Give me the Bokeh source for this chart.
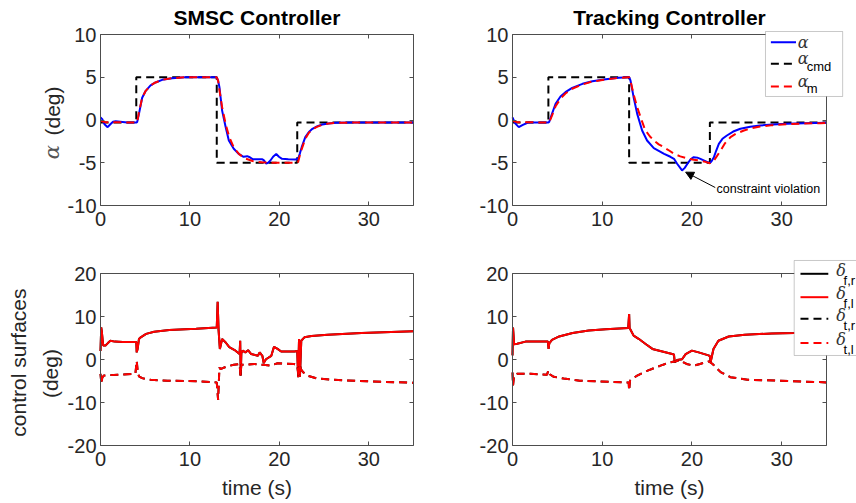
from bokeh.plotting import figure
from bokeh.layouts import column, row
from bokeh.models import Range1d, FixedTicker, LinearAxis, Label, Arrow, NormalHead, BoxAnnotation
from bokeh.embed import file_html
from bokeh.resources import INLINE

# ---------------------------------------------------------------- data
x_ticks = [0, 10, 20, 30]
alpha_ticks = [-10, -5, 0, 5, 10]
surf_ticks = [-20, -10, 0, 10, 20]

# commanded angle of attack (deg), step sequence
cmd_pts = [(0, -0.3), (4, -0.3), (4, 5), (13, 5), (13, -5), (22, -5), (22, -0.3), (35, -0.3)]

# SMSC controller: measured alpha and reference-model alpha (deg)
smsc_alpha_pts = [(0, 0.3), (0.2, 0.1), (0.45, -0.5), (0.8, -0.84), (1.1, -0.5), (1.4, -0.2), (1.7, -0.14),
                  (2.2, -0.2), (3.0, -0.3), (4.0, -0.3), (4.1, -0.25), (4.3, 0.72), (4.66, 2.6), (5.03, 3.37),
                  (5.6, 4.04), (6.15, 4.39), (6.9, 4.7), (8.0, 4.89), (9.5, 5.0), (13.0, 5.0), (13.15, 4.6),
                  (13.3, 3.84), (13.6, 1.1), (14.0, -0.84), (14.35, -2.4), (14.9, -3.37), (15.5, -4.0),
                  (16.0, -4.3), (16.4, -4.23), (16.7, -4.35), (17.0, -4.58), (17.5, -4.6), (18.1, -4.58),
                  (18.3, -4.75), (18.5, -5.1), (18.75, -5.0), (19.0, -4.74), (19.3, -4.3), (19.65, -3.96),
                  (19.95, -4.3), (20.3, -4.54), (21.0, -4.6), (21.8, -4.62), (22.1, -4.54), (22.3, -3.9),
                  (22.5, -3.18), (22.9, -2.0), (23.3, -1.4), (23.7, -1.03), (24.2, -0.75), (24.8, -0.53),
                  (25.5, -0.4), (26.3, -0.33), (28, -0.3), (35, -0.3)]
smsc_alpha_m_pts = [(0, -0.1), (0.5, -0.25), (4.0, -0.3), (4.1, -0.25), (4.3, 0.9), (4.66, 2.6), (5.03, 3.37),
                    (5.6, 4.04), (6.15, 4.39), (6.9, 4.7), (8.0, 4.89), (9.5, 5.0), (13.0, 5.0), (13.15, 4.6),
                    (13.3, 3.5), (13.6, 1.5), (14.0, -0.5), (14.4, -2.0), (14.9, -3.2), (15.5, -4.0),
                    (16.2, -4.5), (17.0, -4.8), (18.0, -4.95), (19.0, -5.0), (22.0, -5.0), (22.1, -4.9),
                    (22.3, -4.1), (22.5, -3.4), (22.9, -2.2), (23.3, -1.5), (23.7, -1.1), (24.2, -0.8),
                    (24.8, -0.55), (25.5, -0.42), (26.3, -0.33), (28, -0.3), (35, -0.3)]

# tracking controller: measured alpha and reference-model alpha (deg)
trk_alpha_pts = [(0, 0.3), (0.3, -0.4), (0.7, -0.84), (1.1, -0.6), (1.8, -0.26), (2.5, -0.3), (4.0, -0.3),
                 (4.1, -0.2), (4.4, 0.72), (4.8, 1.9), (5.35, 2.75), (5.9, 3.25), (6.65, 3.76), (7.8, 4.23),
                 (8.9, 4.54), (10.4, 4.77), (11.85, 4.93), (12.9, 5.0), (13.0, 5.0), (13.15, 4.62),
                 (13.5, 2.67), (13.9, 0.72), (14.45, -1.23), (15.0, -2.4), (15.75, -3.3), (16.9, -3.96),
                 (17.6, -4.3), (18.0, -4.54), (18.35, -5.12), (18.9, -5.9), (19.2, -5.6), (19.5, -5.12),
                 (19.85, -4.6), (20.2, -4.35), (20.6, -4.4), (20.95, -4.54), (21.5, -4.8), (22.0, -5.05),
                 (22.2, -4.8), (22.45, -4.35), (22.7, -3.6), (23.0, -2.79), (23.4, -2.2), (23.9, -1.81),
                 (24.6, -1.35), (25.4, -1.03), (26.5, -0.8), (27.6, -0.64), (29, -0.52), (30.6, -0.45),
                 (32.5, -0.38), (35, -0.32)]
trk_alpha_m_pts = [(0, -0.1), (0.5, -0.25), (4.0, -0.3), (4.1, -0.25), (4.4, 0.5), (4.8, 1.6), (5.35, 2.5),
                   (5.9, 3.1), (6.65, 3.65), (7.8, 4.15), (8.9, 4.5), (10.4, 4.75), (11.85, 4.92), (12.9, 5.0),
                   (13.0, 5.0), (13.15, 4.6), (13.5, 3.0), (13.9, 1.5), (14.45, -0.2), (14.8, -1.2),
                   (15.3, -1.9), (15.75, -2.4), (16.3, -2.85), (16.9, -3.2), (17.5, -3.6), (18.0, -3.96),
                   (18.7, -4.25), (19.5, -4.5), (20.2, -4.65), (20.95, -4.74), (21.5, -4.9), (22.0, -5.05),
                   (22.45, -4.74), (22.8, -4.2), (23.2, -3.57), (23.7, -2.7), (24.3, -2.0), (25.0, -1.55),
                   (25.8, -1.23), (26.7, -0.95), (27.6, -0.76), (29, -0.6), (30.6, -0.5), (32.5, -0.42),
                   (34.3, -0.37), (35, -0.35)]

# SMSC controller: flap (f) and tail (t) deflections (deg); right and left surfaces coincide
smsc_flap_pts = [(0, 2.0), (0.08, 7.5), (0.15, 6.5), (0.3, 3.3), (0.56, 3.3), (0.8, 3.8), (1.1, 4.4),
                 (1.6, 4.2), (2.5, 4.1), (4.0, 4.1), (4.05, 1.7), (4.15, 2.5), (4.3, 4.8), (4.5, 5.2),
                 (5.1, 6.0), (6.0, 6.5), (7.7, 6.9), (10.7, 7.2), (13.0, 7.5), (13.1, 13.5), (13.2, 7.0),
                 (13.35, 2.5), (13.6, 4.8), (14.0, 4.0), (14.4, 2.9), (15.1, 2.1), (15.55, 1.3), (15.62, 4.4),
                 (15.68, -3.7), (15.75, 1.5), (15.9, 2.1), (16.2, 1.7), (16.5, 2.2), (16.85, 1.3), (17.6, 0.9),
                 (17.8, 1.7), (18.1, 0.9), (18.25, -0.8), (18.5, 0.1), (19.1, 0.9), (19.4, 3.0), (19.8, 2.5),
                 (20.2, 1.9), (21.7, 1.9), (22.0, 2.0), (22.1, -4.1), (22.2, 4.8), (22.3, -4.0), (22.45, 4.4),
                 (22.8, 5.2), (23.6, 5.5), (25.4, 5.8), (29.2, 6.2), (35, 6.6)]
smsc_tail_pts = [(0, -3.3), (0.1, -5.7), (0.2, -4.2), (0.37, -3.7), (1.9, -3.5), (3.9, -3.3), (4.05, -0.3),
                 (4.15, -2.5), (4.3, -3.9), (4.65, -4.3), (5.6, -4.7), (7.5, -4.9), (11.2, -5.05), (13.0, -5.3),
                 (13.15, -9.4), (13.3, -1.8), (13.4, -2.2), (14.1, -1.6), (14.9, -1.2), (15.55, -1.0),
                 (15.65, -3.7), (15.75, -1.2), (16.1, -1.2), (17.2, -1.0), (18.2, -1.2), (19.0, -1.4),
                 (19.8, -0.85), (21.6, -1.0), (22.0, -1.2), (22.15, -4.1), (22.3, -1.0), (22.4, -2.2),
                 (22.7, -3.0), (23.1, -3.7), (24.2, -4.4), (26.1, -4.7), (29.8, -5.05), (35, -5.4)]

# tracking controller: flap and tail deflections (deg)
trk_flap_pts = [(0, 1.0), (0.06, 7.5), (0.18, 3.6), (0.52, 3.7), (1.45, 4.2), (3.95, 4.2), (4.02, 2.5),
                (4.1, 3.8), (4.4, 4.6), (5.2, 5.4), (6.7, 6.2), (8.5, 6.8), (10.4, 7.1), (12.9, 7.4),
                (13.0, 10.6), (13.05, 7.4), (13.2, 6.8), (13.5, 5.6), (14.1, 4.8), (14.8, 3.7), (15.6, 2.5),
                (16.7, 1.9), (17.8, 1.3), (18.0, 1.2), (18.08, -0.6), (18.35, -0.1), (18.9, 0.1), (19.3, 1.3),
                (20.0, 2.1), (20.75, 1.7), (21.85, 1.0), (22.0, 0.8), (22.08, -0.6), (22.4, 2.5), (22.95, 4.4),
                (24.1, 5.4), (25.9, 5.8), (28.9, 6.1), (31.4, 6.2), (35, 6.4)]
trk_tail_pts = [(0, -3.0), (0.06, -6.0), (0.18, -3.6), (0.5, -3.3), (2.0, -3.3), (3.85, -3.5), (4.0, -2.5),
                (4.15, -3.4), (4.6, -4.0), (5.7, -4.4), (7.5, -4.9), (9.4, -5.05), (12.7, -5.3), (12.95, -5.3),
                (13.0, -7.2), (13.1, -4.9), (13.9, -3.7), (15.0, -2.6), (16.5, -1.4), (17.6, -0.6), (18.7, -0.2),
                (19.4, -1.0), (20.2, -1.4), (20.9, -1.0), (21.9, -0.4), (22.3, -1.0), (23.2, -2.9), (24.3, -4.1),
                (26.2, -4.7), (29.9, -4.9), (35, -5.3)]

# ---------------------------------------------------------------- style
FONT = "Liberation Sans"
AXIS_COLOR = "#4d4d4d"
TEXT_COLOR = "#262626"
DASH = "8 5"
X_LIM = (0, 35)


def xy(pts):
    return [p[0] for p in pts], [p[1] for p in pts]


def padded_range(lo, hi, pad_lo_px, box_px, pad_hi_px):
    """Range whose [lo, hi] part spans box_px pixels, with extra pixel padding on both ends."""
    scale = box_px / (hi - lo)
    return Range1d(lo - pad_lo_px / scale, hi + pad_hi_px / scale)


def make_fig(width, height, ylim, yticks, box):
    # box = (left, right, top, bottom) pixel margins around the axes box; the whole
    # canvas is plotting area so that texts and legends may sit anywhere on it
    left, right, top, bottom = box
    p = figure(width=width, height=height,
               x_range=padded_range(*X_LIM, left, width - left - right, right),
               y_range=padded_range(*ylim, bottom, height - top - bottom, top),
               output_backend="svg", toolbar_location=None,
               x_axis_location=None, y_axis_location=None,
               min_border=0, min_border_left=0, min_border_right=0,
               min_border_top=0, min_border_bottom=0)
    p.xgrid.visible = False
    p.ygrid.visible = False
    p.outline_line_color = None
    p.border_fill_color = "white"
    sides = {"below": (x_ticks, X_LIM, ylim[0]), "above": (x_ticks, X_LIM, ylim[1]),
             "left": (yticks, ylim, X_LIM[0]), "right": (yticks, ylim, X_LIM[1])}
    for side, (ticks, bounds, loc) in sides.items():
        ax = LinearAxis(ticker=FixedTicker(ticks=ticks), bounds=bounds, fixed_location=loc)
        ax.major_tick_in = 4
        ax.major_tick_out = 0
        ax.minor_tick_line_color = None
        ax.axis_line_color = AXIS_COLOR
        ax.major_tick_line_color = AXIS_COLOR
        if side in ("below", "left"):
            ax.major_label_text_font = FONT
            ax.major_label_text_font_size = "20px"
            ax.major_label_text_color = TEXT_COLOR
            ax.major_label_standoff = 6 if side == "below" else 4
            ax.major_label_overrides = {t: str(t) for t in ticks if t < 0}
        else:
            ax.major_label_text_font_size = "1px"
            ax.major_label_text_color = None
            ax.major_label_standoff = 0
        p.add_layout(ax, side)
    return p


def text(p, x, y, s, size="21px", style="normal", font=FONT, color=TEXT_COLOR, angle=0.0,
         align="center", baseline="middle"):
    p.add_layout(Label(x=x, y=y, text=s, text_font=font, text_font_size=size, text_font_style=style,
                       text_color=color, angle=angle, text_align=align, text_baseline=baseline))


def seg(p, x0, y0, x1, y1, color, dash="solid"):
    p.add_layout(Arrow(end=None, x_start=x0, y_start=y0, x_end=x1, y_end=y1,
                       line_color=color, line_width=2, line_dash=dash))


# ---------------------------------------------------------------- top row: angle of attack
def alpha_panel(width, box, title, alpha_pts, alpha_m_pts):
    p = make_fig(width, 240, (-10, 10), alpha_ticks, box)
    tx, ty = xy(cmd_pts)
    p.line(tx, ty, line_color="black", line_width=2, line_dash=DASH)
    ax_, ay_ = xy(alpha_pts)
    p.line(ax_, ay_, line_color="#0000ff", line_width=2)
    mx, my = xy(alpha_m_pts)
    p.line(mx, my, line_color="#ff0000", line_width=2, line_dash=DASH)
    text(p, 17.5, 12.0, title, size="21px", style="bold", color="black")
    return p


p_tl = alpha_panel(430, (100, 17, 34, 35), "SMSC Controller", smsc_alpha_pts, smsc_alpha_m_pts)
p_tr = alpha_panel(426, (82, 30, 34, 35), "Tracking Controller", trk_alpha_pts, trk_alpha_m_pts)

# y label of the alpha panels
text(p_tl, -5.37, 1.05, "(deg)", angle=1.5708)
text(p_tl, -5.37, -3.75, "α", size="21px", style="italic", font="DejaVu Serif", color="#555555", angle=1.5708)

# constraint-violation annotation
p_tr.add_layout(Arrow(end=NormalHead(size=8, fill_color="black", line_color="black"),
                      x_start=22.6, y_start=-7.9, x_end=19.3, y_end=-6.1,
                      line_color="black", line_width=1))
text(p_tr, 22.75, -8.1, "constraint violation", size="12.5px", align="left", color="black")

# legend of the alpha panels
p_tr.add_layout(BoxAnnotation(left=28.2, right=36.8, top=10.35, bottom=2.75, fill_color="white",
                              fill_alpha=1.0, line_color=AXIS_COLOR, line_width=1))
seg(p_tr, 28.8, 9.1, 31.6, 9.1, "#0000ff")
seg(p_tr, 28.8, 6.57, 31.6, 6.57, "black", DASH)
seg(p_tr, 28.8, 3.92, 31.6, 3.92, "#ff0000", DASH)
text(p_tr, 31.8, 9.06, "α", size="16px", style="italic", font="DejaVu Serif", align="left", color="#333333")
text(p_tr, 31.8, 7.19, "α", size="16px", style="italic", font="DejaVu Serif", align="left", color="#333333")
text(p_tr, 32.8, 6.26, "cmd", size="13px", align="left", color="black")
text(p_tr, 31.8, 4.5, "α", size="16px", style="italic", font="DejaVu Serif", align="left", color="#333333")
text(p_tr, 32.8, 3.68, "m", size="13px", align="left", color="black")


# ---------------------------------------------------------------- bottom row: control surfaces
def surface_panel(width, box, flap_pts, tail_pts):
    p = make_fig(width, 263, (-20, 20), surf_ticks, box)
    fx, fy = xy(flap_pts)
    gx, gy = xy(tail_pts)
    p.line(fx, fy, line_color="black", line_width=2)                 # right flap
    p.line(fx, fy, line_color="#ff0000", line_width=2)               # left flap
    p.line(gx, gy, line_color="black", line_width=2, line_dash=DASH)    # right tail
    p.line(gx, gy, line_color="#ff0000", line_width=2, line_dash=DASH)  # left tail
    text(p, 17.5, -29.8, "time (s)")
    return p


p_bl = surface_panel(430, (100, 17, 33.3, 58), smsc_flap_pts, smsc_tail_pts)
p_br = surface_panel(426, (82, 30, 33.3, 58), trk_flap_pts, trk_tail_pts)

text(p_bl, -9.17, -0.68, "control surfaces", angle=1.5708)
text(p_bl, -5.59, -3.24, "(deg)", angle=1.5708)

# legend of the control-surface panels
p_br.add_layout(BoxAnnotation(left=31.4, right=42.0, top=23.1, bottom=0.97, fill_color="white",
                              fill_alpha=1.0, line_color=AXIS_COLOR, line_width=1))
legend_rows = [(20.0, "black", "solid", "f,r"), (14.55, "#ff0000", "solid", "f,l"),
               (9.5, "black", DASH, "t,r"), (3.9, "#ff0000", DASH, "t,l")]
for yr, col, dash, sub in legend_rows:
    seg(p_br, 32.1, yr, 35.2, yr, col, dash)
    text(p_br, 36.1, yr + 0.8, "δ", size="16px", style="italic", font="DejaVu Serif", align="left",
         color="#333333")
    text(p_br, 36.9, yr - 1.5, sub, size="13px", align="left", color="black")

layout = column(row(p_tl, p_tr), row(p_bl, p_br))

with open("out.html", "w") as f:
    f.write(file_html(layout, INLINE))
